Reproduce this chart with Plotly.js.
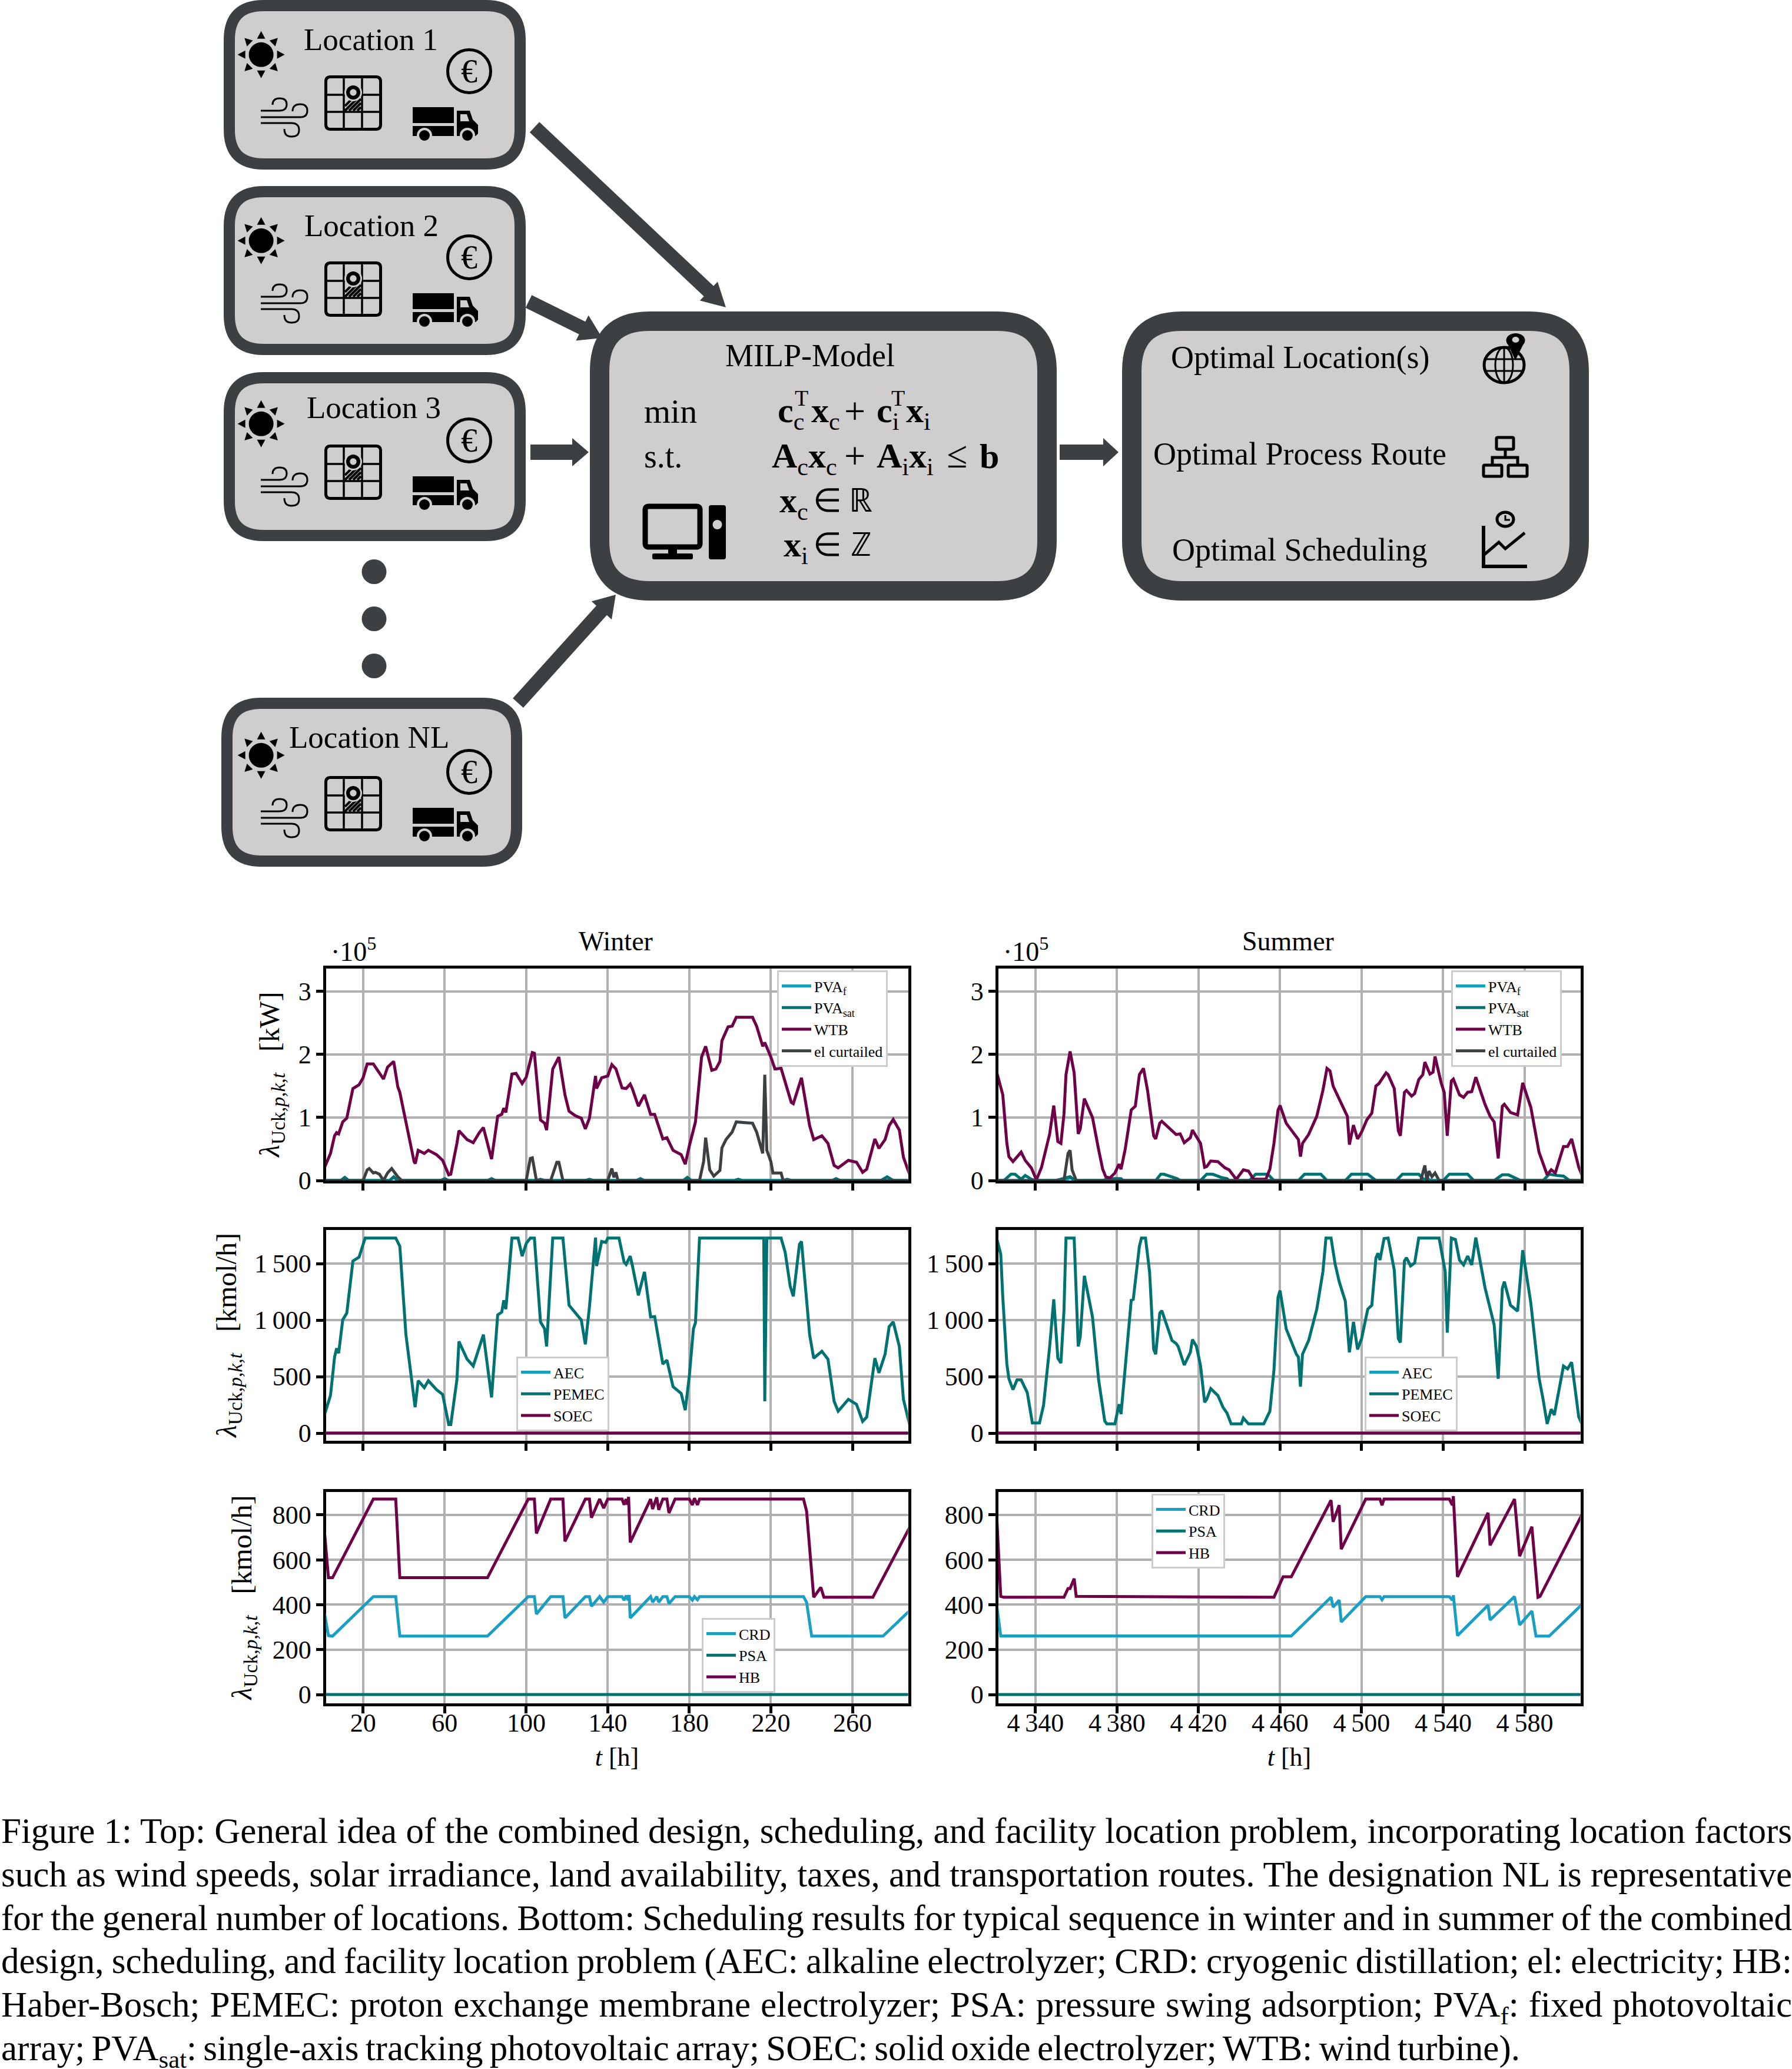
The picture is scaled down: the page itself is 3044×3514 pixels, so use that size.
<!DOCTYPE html>
<html><head><meta charset="utf-8">
<script src="https://cdn.plot.ly/plotly-3.0.1.min.js"></script>
<style>html,body{margin:0;padding:0;background:#fff}</style></head>
<body><div id="chart" style="width:3044px;height:3514px"></div>
<script>
const W = 3044, H = 3514;
const cBlue = '#1a9fc3', cTeal = '#007271', cPurple = '#6e0048', cGray = '#3c4042', cGrid = '#b0b0b0', cBox = '#cfcdce';

// ---- Winter, power [10^5 kW]
const tWinterWtb = [1,4,6,7,8,10,12,15,18,20,22,25,30,32,35,37,38,41,45,45.6,47,50,52,56,59,62,63,66,67,71,74,77,79,83,86,88,89,90,93,95,98,100,103,104,107,109,110,113,116,119,121,124,127,129,131,134,134.5,137,140,142,144,147,149,151,152,155,158,161,163,167,169,172,176,178,180,183,186,188,191,193,195,196,199,201,203,211,213,216,217,220,222,225,230,231,235,239,241,245,248,251,253,258,262,265,267,271,273,276,278,280,283,285,288];
const vWinterWtb = [.2,.43,.71,.76,.74,.93,.99,1.46,1.52,1.63,1.85,1.85,1.61,1.8,1.89,1.49,1.4,.93,.3,.27,.48,.43,.48,.41,.32,.09,.1,.59,.79,.65,.6,.76,.84,.34,1.02,1.05,1.15,1.08,1.69,1.7,1.54,1.64,2.03,2.02,.96,.91,.8,1.77,1.96,1.36,1.1,1.03,.99,.82,.99,1.66,1.46,1.63,1.66,1.84,1.77,1.47,1.46,1.53,1.46,1.18,1.36,1.05,1.05,.66,.68,.48,.41,.26,.55,.93,1.96,2.13,1.75,1.77,1.89,2.22,2.44,2.45,2.59,2.59,2.45,2.13,2.19,1.96,1.77,1.78,1.24,1.22,1.63,.87,.65,.71,.59,.24,.2,.32,.29,.13,.18,.66,.51,.65,.87,.97,.8,.37,.1];
const tWinterCurt = [1,20,22,23,25,26,28,30,32,34,37,39,100,102,103,105,112,115,116,118,140,142,143,144,145,185,187,188,190,192,195,196,198,201,203,211,213,215,216,217,218,220,221,225,226,288];
const vWinterCurt = [0,0,.17,.19,.12,.13,.1,0,.12,.19,.06,0,0,.35,.36,0,0,.29,.29,0,0,.19,.05,.13,0,0,.3,.68,.17,.07,.16,.52,.65,.77,.93,.91,.77,.55,.43,1.68,.48,.3,.12,.12,0,0];
const tWinterSat = [1,9,11,13,33,35,37,58,60,62,81,83,85,105,107,109,129,131,133,154,156,158,177,179,181,202,204,206,226,228,230,250,252,254,274,277,280,288];
const vWinterSat = [0,0,.05,0,0,.06,0,0,.03,0,0,.03,0,0,.02,0,0,.02,0,0,.03,0,0,.05,0,0,.02,0,0,.02,0,0,.03,0,0,.06,0,0];
const tWinterFix = [1,9,11,13,33,35,37,288];
const vWinterFix = [0,0,.03,0,0,.05,0,0];

// ---- Summer, power [10^5 kW]
const tSummerWtb = [4321,4324,4326,4327,4329,4333,4335,4338,4340.5,4343,4347,4349,4351,4352.5,4354,4355,4357,4359,4361,4362,4364,4368,4371,4373,4374.5,4376.5,4379,4381,4382,4384,4387,4389,4391,4393,4395,4398,4399,4401,4402,4407,4409,4411,4413,4416,4417,4421,4423,4424,4426,4429.5,4433,4435,4438,4439,4442,4444.5,4447,4453,4455,4457,4459,4460,4463,4469,4470,4471,4474,4478,4481,4483,4484.5,4486,4491,4493,4494,4496,4498,4500,4502.5,4505,4507,4508.5,4512,4513,4516,4518,4519,4521,4522,4524.5,4526,4528,4530,4531,4533.5,4535,4536,4539,4540.5,4542,4544,4545,4548,4550,4552,4554,4556,4560.5,4563,4565,4567,4569,4570,4573,4576.5,4579,4583,4587,4589,4591,4593,4595,4599,4601,4603,4606.5,4608];
const vSummerWtb = [1.72,1.36,.59,.38,.3,.45,.32,.2,.01,.21,.74,1.19,.62,.59,1.05,1.68,2.05,1.71,.74,.82,1.3,1,.49,.18,.06,.04,.12,.26,.18,.49,1.12,1.18,1.68,1.78,1.43,.71,.66,.91,.94,.79,.73,.74,.6,.68,.8,.59,.21,.22,.31,.3,.2,.17,.04,.04,.17,.15,.02,.02,.18,.59,1.12,1.19,.91,.65,.38,.59,.73,1.02,1.43,1.78,1.74,1.5,1.15,1.02,.57,.88,.66,.77,.96,1.07,1.5,1.54,1.71,1.68,1.46,.79,.71,1.4,1.43,1.34,1.38,1.6,1.68,1.88,1.69,1.72,1.97,1.55,1.4,.71,1.58,1.61,1.36,1.32,1.4,1.41,1.64,1.21,1.02,.93,.35,1.18,1.21,1.08,1.04,1.55,1.16,.45,.27,.09,.17,.12,.54,.54,.66,.21,.09];
const tSummerCurt = [4321,4354,4356,4357,4358,4360,4529,4531,4532,4533,4534.5,4536,4538,4608];
const vSummerCurt = [0,0,.43,.48,.17,0,0,.24,0,.15,.06,.12,0,0];
const tSummerSat = [4321,4324.5,4328,4330,4333,4335,4338,4340,4350,4353,4357,4359.5,4373,4375.5,4382,4383,4399,4401.5,4403,4409.5,4411,4421,4424,4427,4431,4434,4435,4445,4448,4454,4457,4469,4472,4480,4483,4492,4495,4503,4507,4517,4520,4528,4531,4540,4543,4552,4555,4565,4569,4572,4578,4589,4592,4596,4599,4602,4608];
const vSummerSat = [0,0,.1,.1,.02,.08,.02,0,0,.03,.06,0,0,.03,.03,0,0,.1,.1,.03,0,0,.1,.1,.05,.03,0,0,.1,.1,0,0,.1,.1,0,0,.1,.1,0,0,.1,.1,0,0,.1,.1,0,0,.09,.09,0,0,.1,.08,.07,0,0];
const tSummerFix = [4321,4355,4357,4359,4530,4532,4534,4608];
const vSummerFix = [0,0,.05,0,0,.04,0,0];

// ---- Electrolyzers [kmol/h]
const tWinterPem = [1,4,6,7,8,10,12,15,18,20,21,36,38,41,45,45.5,47,50,52,56,59,62,63,66,67,71,74,77,79,83,86,88,89,90,93,96,98,100,102,104,107,109,110,113,118,121,124,127,129,131,134,134.5,137,139,140,145.5,148,149,151,152,155,158,161,163,167,169,172,176,178,180,182,183,185,216.5,217,218,225,227,229.5,231,234,235,239,241,245,248,251,253,258,262,265,267,271,273,276,278,280,283,285,288];
const vWinterPem = [160,333,672,750,707,1002,1062,1523,1557,1661,1726,1726,1653,871,281,229,464,403,464,385,342,76,76,472,811,654,594,767,871,316,1045,1071,1175,1097,1726,1726,1566,1678,1726,1726,984,923,767,1726,1726,1132,1062,1001,785,1115,1730,1479,1696,1687,1726,1726,1514,1493,1566,1488,1219,1427,1028,1031,611,646,411,351,203,507,923,976,1726,1726,281,1726,1726,1600,1297,1210,1670,1696,871,663,724,654,281,194,299,255,104,142,663,533,698,941,984,767,299,76];
const tSummerPem = [4321,4323,4324,4326,4327,4329,4331,4333,4336,4338.5,4342,4344,4347,4349,4351,4352.5,4354,4355,4359,4361,4362,4364,4368,4371,4374,4375,4379,4381,4382,4384,4387,4388,4391,4392,4394,4396,4398,4399,4401,4402,4407,4409,4410,4413,4416,4417,4419,4421,4423,4424,4426,4429.5,4432,4434,4436,4441,4442,4444.5,4452,4455,4457,4459,4460,4463,4468,4469,4470,4471,4474,4478,4481,4482.5,4485,4487,4489,4492,4494,4496,4498,4500,4503,4505,4507,4508,4509,4511,4513,4516,4518,4519,4521,4522,4524,4526,4528,4538,4541,4542,4544,4546,4548,4550,4552,4554,4556,4560.5,4563,4565,4567,4569,4570,4573,4576.5,4579,4583,4587,4589,4591,4593,4594.5,4599,4601,4603,4606.5,4608];
const vSummerPem = [1726,1583,1201,611,481,385,472,472,359,90,90,247,767,1184,663,620,1080,1726,1726,767,854,1392,1028,472,108,82,82,255,168,559,1175,1184,1653,1726,1726,1427,741,698,1062,1083,819,793,767,602,715,828,767,594,273,299,394,333,229,177,82,82,134,82,82,194,559,1201,1262,923,698,672,411,698,819,1097,1427,1726,1726,1496,1340,1167,715,984,741,837,1097,1132,1549,1592,1531,1722,1726,1444,837,802,1523,1552,1479,1505,1726,1726,1427,889,1726,1713,1531,1488,1566,1488,1730,1288,1097,958,481,1279,1340,1132,1080,1618,1149,489,299,82,212,160,594,568,628,142,82];
const tWinterEnds = [1,288];
const tSummerEnds = [4321,4608];
const vZero = [0,0];

// ---- Cryogenic distillation and Haber-Bosch [kmol/h]
const tWinterHb = [1,3,5,25,36,38,81,101,104,105,112,118,119,129,131,132,136,138,140,147,148,149,149.7,150.2,151,161,162,164,165,167,169,170,173,180,181.5,182.5,184,185,236,237.5,241,244.5,246,270,288];
const vWinterHb = [730,520,520,870,870,520,520,870,870,717,870,870,682,870,870,787,870,830,870,870,845,870,845,880,677,870,826,878,822,870,870,808,870,870,844,874,844,870,870,817,433,477,433,433,743];
const tWinterCrd = [1,3,5,25,36,38,81,101,104,105,112,118,119,126,129,131,132,136,138,140,147,148,149,150,150.5,151,161,162,164,165,167,169,170,173,180,181.5,182.5,184,185,236,237.5,240,275,288];
const vWinterCrd = [363,262,260,436,436,260,260,436,436,358,436,436,341,406,436,436,393,436,411,436,436,420,440,420,443,341,436,411,436,411,436,436,405,436,436,420,436,422,436,436,411,260,260,373];
const tSummerHb = [4321,4323,4324.5,4354,4356,4357,4359,4360,4457,4461.5,4465.5,4485,4486,4489,4490,4502,4509,4510,4511,4543,4544.5,4545,4547,4562,4563,4575,4577.5,4583.5,4586.5,4587.5,4608];
const vSummerHb = [800,437,433,433,472,472,516,437,433,524,524,865,769,843,647,870,870,843,870,870,843,883,524,809,664,870,616,747,433,437,800];
const tSummerCrd = [4321,4323,4465.5,4485,4486,4489,4490,4502,4509,4510,4511,4543,4544.5,4545,4547,4562,4563,4575,4577.5,4583.5,4585.5,4592,4608];
const vSummerCrd = [398,261,261,433,389,420,323,436,436,422,436,436,420,442,262,398,332,436,310,372,260,260,400];

// ---- Ticks
const tickWinterX = [20,60,100,140,180,220,260];
const tickWinterLabels = ['20','60','100','140','180','220','260'];
const tickSummerX = [4340,4380,4420,4460,4500,4540,4580];
const tickSummerLabels = ['4\u2009340','4\u2009380','4\u2009420','4\u2009460','4\u2009500','4\u2009540','4\u2009580'];
const tickPower = [0,1,2,3];
const tickElec = [0,500,1000,1500];
const tickElecLabels = ['0','500','1\u2009000','1\u2009500'];
const tickGas = [0,200,400,600,800];

const captionLines = [
 'Figure 1: Top: General idea of the combined design, scheduling, and facility location problem, incorporating location factors',
 'such as wind speeds, solar irradiance, land availability, taxes, and transportation routes. The designation NL is representative',
 'for the general number of locations. Bottom: Scheduling results for typical sequence in winter and in summer of the combined',
 'design, scheduling, and facility location problem (AEC: alkaline electrolyzer; CRD: cryogenic distillation; el: electricity; HB:',
 'Haber-Bosch; PEMEC: proton exchange membrane electrolyzer; PSA: pressure swing adsorption; PVA<sub>f</sub>: fixed photovoltaic',
 'array; PVA<sub>sat</sub>: single-axis tracking photovoltaic array; SOEC: solid oxide electrolyzer; WTB: wind turbine).'
];

// ---- Traces
function tr(x, y, color, name, ax, legend) {
  return {x, y, name, type:'scatter', mode:'lines', xaxis:'x'+ax, yaxis:'y'+ax, legend, cliponaxis:false,
          line:{color, width:5, shape:'linear'}, hoverinfo:'skip'};
}
const data = [
  tr(tWinterFix, vWinterFix, cBlue, 'PVA<sub>f</sub>', '', 'legend'),
  tr(tWinterSat, vWinterSat, cTeal, 'PVA<sub>sat</sub>', '', 'legend'),
  tr(tWinterWtb, vWinterWtb, cPurple, 'WTB', '', 'legend'),
  tr(tWinterCurt, vWinterCurt, cGray, 'el curtailed', '', 'legend'),
  tr(tSummerFix, vSummerFix, cBlue, 'PVA<sub>f</sub>', '2', 'legend2'),
  tr(tSummerSat, vSummerSat, cTeal, 'PVA<sub>sat</sub>', '2', 'legend2'),
  tr(tSummerWtb, vSummerWtb, cPurple, 'WTB', '2', 'legend2'),
  tr(tSummerCurt, vSummerCurt, cGray, 'el curtailed', '2', 'legend2'),
  tr(tWinterEnds, vZero, cBlue, 'AEC', '3', 'legend3'),
  tr(tWinterPem, vWinterPem, cTeal, 'PEMEC', '3', 'legend3'),
  tr(tWinterEnds, vZero, cPurple, 'SOEC', '3', 'legend3'),
  tr(tSummerEnds, vZero, cBlue, 'AEC', '4', 'legend4'),
  tr(tSummerPem, vSummerPem, cTeal, 'PEMEC', '4', 'legend4'),
  tr(tSummerEnds, vZero, cPurple, 'SOEC', '4', 'legend4'),
  tr(tWinterCrd, vWinterCrd, cBlue, 'CRD', '5', 'legend5'),
  tr(tWinterEnds, vZero, cTeal, 'PSA', '5', 'legend5'),
  tr(tWinterHb, vWinterHb, cPurple, 'HB', '5', 'legend5'),
  tr(tSummerCrd, vSummerCrd, cBlue, 'CRD', '6', 'legend6'),
  tr(tSummerEnds, vZero, cTeal, 'PSA', '6', 'legend6'),
  tr(tSummerHb, vSummerHb, cPurple, 'HB', '6', 'legend6'),
];

// ---- Axes
const FONT = 'Liberation Serif';
function xAxis(anchor, left, right, range, vals, labels, showLabels, title) {
  const a = {anchor, domain:[left/W, right/W], range, tickmode:'array', tickvals:vals, ticktext:labels,
    showticklabels:showLabels, showline:true, mirror:true, linecolor:'#000', linewidth:5, layer:'below traces',
    ticks:'outside', ticklen:12, tickwidth:5, tickcolor:'#000', showgrid:true, gridcolor:cGrid, gridwidth:4,
    zeroline:false, tickfont:{size:44}, ticklabelstandoff:-21};
  if (title) a.title = {text:'<i>t</i> [h]', font:{size:44}, standoff:19};
  return a;
}
function yAxis(anchor, top, bottom, range, vals, labels, title, standoff) {
  const a = {anchor, domain:[1-bottom/H, 1-top/H], range, tickmode:'array', tickvals:vals, ticktext:labels,
    showline:true, mirror:true, linecolor:'#000', linewidth:5, layer:'below traces',
    ticks:'outside', ticklen:12, tickwidth:5, tickcolor:'#000', showgrid:true, gridcolor:cGrid, gridwidth:4,
    zeroline:false, tickfont:{size:44}, ticklabelstandoff:-1};
  if (title) a.title = {text:title, font:{size:48}, standoff};
  return a;
}
const lam = '<i>λ</i><sub>Uck,<i>p</i>,<i>k</i>,<i>t</i></sub>   ';
const rngW = [1.72,287.28], rngS = [4321.72,4607.28];
const rPow = [0,3.369], rEl = [-65,1800], rGas = [-38,903];
const strPow = tickPower.map(String), strGas = tickGas.map(String);

// ---- Diagram helpers (page pixel coordinates)
const px = x => x/W, py = y => 1-y/H;
const P = (x,y) => px(x)+' '+py(y);
function pathShape(d, opt) {
  return Object.assign({type:'path', xref:'paper', yref:'paper', path:d, line:{color:'#000',width:0}, layer:'above'}, opt);
}
function rrPath(x0,y0,x1,y1,r) {
  return 'M'+P(x0+r,y0)+' L'+P(x1-r,y0)+' Q'+P(x1,y0)+' '+P(x1,y0+r)+' L'+P(x1,y1-r)+' Q'+P(x1,y1)+' '+P(x1-r,y1)+
    ' L'+P(x0+r,y1)+' Q'+P(x0,y1)+' '+P(x0,y1-r)+' L'+P(x0,y0+r)+' Q'+P(x0,y0)+' '+P(x0+r,y0)+' Z';
}
function box(x0,y0,x1,y1,r,lw) {
  return pathShape(rrPath(x0+lw/2,y0+lw/2,x1-lw/2,y1-lw/2,r), {fillcolor:cBox, line:{color:cGray,width:lw}});
}
function poly(pts, fill) {
  return pathShape('M'+pts.map(p=>P(p[0],p[1])).join(' L')+' Z', {fillcolor:fill, line:{width:0,color:fill}});
}
function stroke(d, lw, color) {
  return pathShape(d, {line:{color:color||'#000', width:lw}, fillcolor:'rgba(0,0,0,0)'});
}
function circ(cx,cy,rx,ry,fill,lc,lw) {
  return {type:'circle', xref:'paper', yref:'paper', x0:px(cx-rx), x1:px(cx+rx), y0:py(cy+ry), y1:py(cy-ry),
          fillcolor:fill, line:{color:lc||fill, width:lw||0}, layer:'above'};
}
function arrow(x0,y0,x1,y1,sw,hw,hl) {
  const L = Math.hypot(x1-x0,y1-y0), ux=(x1-x0)/L, uy=(y1-y0)/L, nx=-uy, ny=ux;
  const bx=x1-ux*hl, by=y1-uy*hl;
  return poly([[x0+nx*sw/2,y0+ny*sw/2],[bx+nx*sw/2,by+ny*sw/2],[bx+nx*hw/2,by+ny*hw/2],[x1,y1],
               [bx-nx*hw/2,by-ny*hw/2],[bx-nx*sw/2,by-ny*sw/2],[x0-nx*sw/2,y0-ny*sw/2]], cGray);
}
function icons(dy) {
  const s = [];
  // sun
  const sx=443.6, sy=92.8+dy;
  s.push(circ(sx,sy,21,21,'#000'));
  for (let i=0;i<8;i++) {
    const a=i*Math.PI/4, c=Math.cos(a), n=Math.sin(a);
    s.push(poly([[sx+c*27-n*7,sy+n*27+c*7],[sx+c*40,sy+n*40],[sx+c*27+n*7,sy+n*27-c*7]],'#000'));
  }
  // wind
  s.push(stroke('M'+P(443,188+dy)+' L'+P(474,188+dy)+' Q'+P(487,188+dy)+' '+P(487,177+dy)+' Q'+P(487,167+dy)+' '+P(475,167+dy)+' Q'+P(463,167+dy)+' '+P(463,178+dy),3));
  s.push(stroke('M'+P(443,199+dy)+' L'+P(510,199+dy)+' Q'+P(522,199+dy)+' '+P(522,188+dy)+' Q'+P(522,177+dy)+' '+P(510,177+dy)+' Q'+P(497,177+dy)+' '+P(497,189+dy),3));
  s.push(stroke('M'+P(443,209+dy)+' L'+P(495,209+dy)+' Q'+P(508,209+dy)+' '+P(508,221+dy)+' Q'+P(508,232+dy)+' '+P(495,232+dy)+' Q'+P(483,232+dy)+' '+P(483,219+dy),3));
  // map grid
  s.push(pathShape(rrPath(553.5,130.5+dy,646.5,219.5+dy,8),{line:{color:'#000',width:5},fillcolor:'rgba(0,0,0,0)'}));
  s.push(stroke('M'+P(584,130+dy)+' L'+P(584,220+dy),3.5));
  s.push(stroke('M'+P(615,130+dy)+' L'+P(615,220+dy),3.5));
  s.push(stroke('M'+P(553,161+dy)+' L'+P(648,161+dy),3.5));
  s.push(stroke('M'+P(553,190+dy)+' L'+P(648,190+dy),3.5));
  // hatched plot under the pin
  [[586,188,606,168],[593,188,613,168],[600,188,613,175],[607,188,613,182],[586,180,596,170]].forEach(h=>
    s.push(stroke('M'+P(h[0],h[1]+dy)+' L'+P(h[2],h[3]+dy),4)));
  s.push(poly([[590,162+dy],[600,170+dy],[610,162+dy]],'#000'));
  s.push(circ(600,157+dy,15,15,cBox));
  s.push(circ(600,157+dy,12,12,'#000'));
  s.push(circ(600,157+dy,5.7,5.7,cBox));
  // truck
  s.push(poly([[701,182+dy],[771,182+dy],[771,209+dy],[701,209+dy]],'#000'));
  s.push(poly([[701,214+dy],[771,214+dy],[771,231+dy],[701,231+dy]],'#000'));
  s.push(poly([[776,188+dy],[798,188+dy],[803,203+dy],[812,212+dy],[812,227+dy],[808,231+dy],[776,231+dy]],'#000'));
  s.push(poly([[782,194+dy],[793,194+dy],[797,206+dy],[782,206+dy]],cBox));
  s.push(circ(721,230+dy,13,13,cBox));
  s.push(circ(721,230+dy,9,9,'#000'));
  s.push(circ(794,230+dy,13,13,cBox));
  s.push(circ(794,230+dy,9,9,'#000'));
  // euro coin
  s.push(circ(797,121+dy,36.5,36.5,'rgba(0,0,0,0)','#000',5));
  return s;
}

const shapes = [];
// arrows first so the boxes cover their tips
shapes.push(arrow(908,216,1233,522,24,44,40));
shapes.push(arrow(898,512,1023,574,24,48,38));
shapes.push(arrow(901,768,1000,768,26,48,28));
shapes.push(arrow(880,1194,1046,1010,24,46,36));
shapes.push(arrow(1800,768,1900,768,26,48,26));
[[380,0,893,288],[380,316,893,603],[380,632,893,919],[376,1185,887,1472]].forEach(b=>shapes.push(box(b[0],b[1],b[2],b[3],58,19)));
shapes.push(box(1002,529,1795,1020,85,33));
shapes.push(box(1906,529,2699,1020,85,33));
[971,1051,1131].forEach(y=>shapes.push(circ(635.5,y,21,21,cGray)));
[0,316,627,1190].forEach(dy=>icons(dy).forEach(s=>shapes.push(s)));
// computer
shapes.push(pathShape(rrPath(1096,860,1189,929,6),{line:{color:'#000',width:9},fillcolor:'rgba(0,0,0,0)'}));
shapes.push(poly([[1135,932],[1150,932],[1150,942],[1135,942]],'#000'));
shapes.push(pathShape(rrPath(1108,940,1177,950,3),{fillcolor:'#000',line:{width:0,color:'#000'}}));
shapes.push(pathShape(rrPath(1204,858,1233,950,4),{fillcolor:'#000',line:{width:0,color:'#000'}}));
shapes.push(circ(1218.5,891,8,8,cBox));
// globe + pin
shapes.push(circ(2555,620,34,30,'rgba(0,0,0,0)','#000',5));
shapes.push(circ(2555,620,15,30,'rgba(0,0,0,0)','#000',3));
shapes.push(stroke('M'+P(2522,610)+' L'+P(2588,610),3));
shapes.push(stroke('M'+P(2522,630)+' L'+P(2588,630),3));
shapes.push(stroke('M'+P(2555,590)+' L'+P(2555,650),3));
shapes.push(poly([[2559,580],[2574,612],[2590,580]],'#000'));
shapes.push(circ(2574.5,578,16,12,'#000'));
shapes.push(circ(2574.5,577,6,5,cBox));
// process route
shapes.push(pathShape(rrPath(2542,743,2571,763,2),{line:{color:'#000',width:5},fillcolor:'rgba(0,0,0,0)'}));
shapes.push(pathShape(rrPath(2520,790,2551,809,2),{line:{color:'#000',width:5},fillcolor:'rgba(0,0,0,0)'}));
shapes.push(pathShape(rrPath(2562,790,2594,809,2),{line:{color:'#000',width:5},fillcolor:'rgba(0,0,0,0)'}));
shapes.push(stroke('M'+P(2557,763)+' L'+P(2557,777)+' M'+P(2535,790)+' L'+P(2535,777)+' L'+P(2578,777)+' L'+P(2578,790),5));
// scheduling chart
shapes.push(stroke('M'+P(2520,893)+' L'+P(2520,962)+' L'+P(2594,962),6));
shapes.push(stroke('M'+P(2520,943)+' L'+P(2546,921)+' L'+P(2557,932)+' L'+P(2590,905),5));
shapes.push(circ(2557,882,14,12,'rgba(0,0,0,0)','#000',5));
shapes.push(stroke('M'+P(2557,875)+' L'+P(2557,883)+' L'+P(2565,883),3));

// ---- Text
function T(text,x,y,size,anchor,extra) {
  return Object.assign({text, x:px(x), y:py(y), xref:'paper', yref:'paper', showarrow:false,
    xanchor:anchor||'center', yanchor:'middle', align:anchor||'center', font:{size:size, color:'#000'}}, extra||{});
}
const ann = [];
ann.push(T('Location 1',630,67,53));
ann.push(T('Location 2',631,383,53));
ann.push(T('Location 3',635,692,53));
ann.push(T('Location NL',627,1252,53));
[0,316,627,1190].forEach(dy=>ann.push(T('€',797,121+dy,56)));
ann.push(T('MILP-Model',1376,604,54));
ann.push(T('min',1092,698,58,'left'));
ann.push(T('s.t.',1092,775,56,'left'));
ann.push(T('<b>c</b><sub>c</sub>',1319,702,60,'left'));
ann.push(T('T',1348,676,38,'left'));
ann.push(T('<b>x</b><sub>c</sub>',1376,702,60,'left'));
ann.push(T('+',1452,698,64));
ann.push(T('<b>c</b><sub>i</sub>',1487,702,60,'left'));
ann.push(T('T',1512,676,38,'left'));
ann.push(T('<b>x</b><sub>i</sub>',1537,702,60,'left'));
ann.push(T('<b>A</b><sub>c</sub><b>x</b><sub>c</sub>',1309,779,60,'left'));
ann.push(T('+',1452,775,64));
ann.push(T('<b>A</b><sub>i</sub><b>x</b><sub>i</sub>',1487,779,60,'left'));
ann.push(T('≤',1625,773,64));
ann.push(T('<b>b</b>',1662,775,60,'left'));
ann.push(T('<b>x</b><sub>c</sub>',1322,854,60,'left'));
ann.push(T('∈',1405,850,56));
ann.push(T('ℝ',1462,850,56));
ann.push(T('<b>x</b><sub>i</sub>',1329,929,60,'left'));
ann.push(T('∈',1405,925,56));
ann.push(T('ℤ',1462,925,56));
ann.push(T('Optimal Location(s)',2208,607,54));
ann.push(T('Optimal Process Route',2208,771,54));
ann.push(T('Optimal Scheduling',2207,934,54));
ann.push(T('Winter',1046,1598,46));
ann.push(T('Summer',2188,1598,46));
ann.push(T('·10<sup>5</sup>',560,1613,46,'left'));
ann.push(T('·10<sup>5</sup>',1702,1613,46,'left'));
const captionStart = ann.length;
const captionY = [3109,3183,3257,3331,3409,3483];
const captionEnd = [3044,3044,3044,3044,3044,2582];
captionLines.forEach((l,i)=>ann.push(T(l,0,captionY[i],61,'left')));

// ---- Legends
function lg(x,y,entry) {
  return {x:px(x), y:py(y), xanchor:'left', yanchor:'top', bgcolor:'#fff', bordercolor:'#cccccc', borderwidth:3,
          font:{size:26}, itemwidth:50, tracegroupgap:0, itemclick:false, itemdoubleclick:false,
          entrywidth:entry, entrywidthmode:'pixels'};
}

const layout = {
  width:W, height:H, margin:{l:0,r:0,t:0,b:0}, paper_bgcolor:'#fff', plot_bgcolor:'#fff',
  font:{family:FONT, color:'#000', size:44},
  xaxis:xAxis('y',553.5,1542.5,rngW,tickWinterX,tickWinterLabels,false,false),
  yaxis:yAxis('x',1644.5,2005,rPow,tickPower,strPow,lam+'[kW]',18),
  xaxis2:xAxis('y2',1695.5,2684.5,rngS,tickSummerX,tickSummerLabels,false,false),
  yaxis2:yAxis('x2',1644.5,2005,rPow,tickPower,strPow),
  xaxis3:xAxis('y3',553.5,1542.5,rngW,tickWinterX,tickWinterLabels,false,false),
  yaxis3:yAxis('x3',2088.5,2446.5,rEl,tickElec,tickElecLabels,lam+'[kmol/h]',17),
  xaxis4:xAxis('y4',1695.5,2684.5,rngS,tickSummerX,tickSummerLabels,false,false),
  yaxis4:yAxis('x4',2088.5,2446.5,rEl,tickElec,tickElecLabels),
  xaxis5:xAxis('y5',553.5,1542.5,rngW,tickWinterX,tickWinterLabels,true,true),
  yaxis5:yAxis('x5',2533.5,2892.5,rGas,tickGas,strGas,lam+'[kmol/h]',21),
  xaxis6:xAxis('y6',1695.5,2684.5,rngS,tickSummerX,tickSummerLabels,true,true),
  yaxis6:yAxis('x6',2533.5,2892.5,rGas,tickGas,strGas),
  legend:lg(1320,1648,170), legend2:lg(2465,1648,160), legend3:lg(877,2304,102), legend4:lg(2318,2304,102), legend5:lg(1192,2748,77), legend6:lg(1956,2537,77),
  shapes, annotations:ann
};

Plotly.newPlot('chart', data, layout, {displayModeBar:false, staticPlot:true}).then(gd=>{
  // justify the caption by widening the word spaces of each line
  gd.querySelectorAll('.annotation').forEach(g=>{
    const idx = +g.getAttribute('data-index');
    if (idx < captionStart) return;
    const t = g.querySelector('text.annotation-text');
    const i = idx-captionStart;
    const n = captionLines[i].split(' ').length-1;
    const w = t.getComputedTextLength();
    t.style.wordSpacing = ((captionEnd[i]-2-w)/n)+'px';
  });
});
</script></body></html>
